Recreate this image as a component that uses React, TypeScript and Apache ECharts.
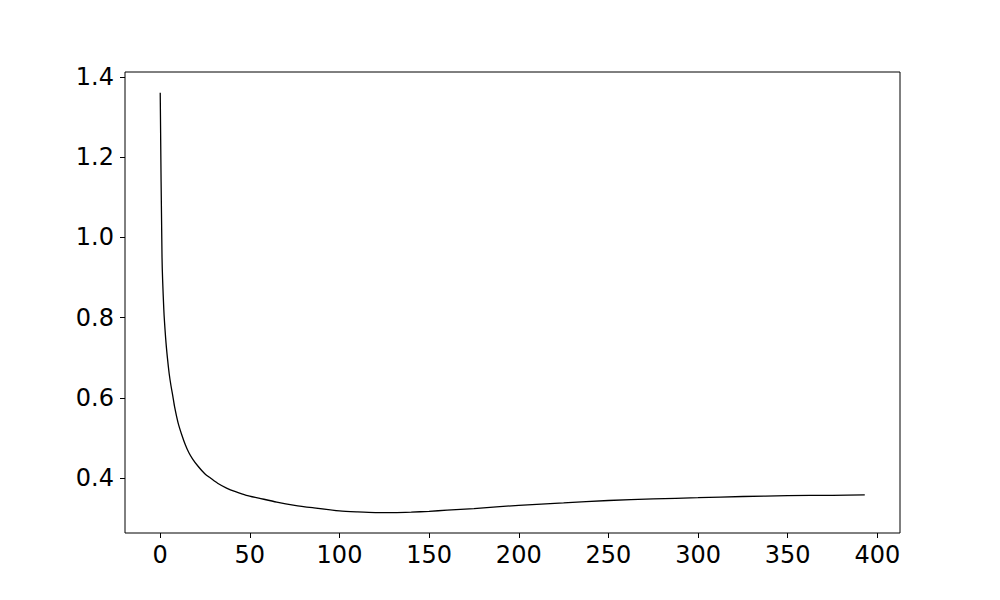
import React, { useEffect, useRef } from "react";
import * as echarts from "echarts";

const xValues = [
  0, 1, 2, 3, 4, 5, 6, 7, 8, 10, 12, 14, 16, 18, 21, 25, 28, 32, 37, 42, 48, 55,
  65, 75, 85, 100, 110, 120, 130, 140, 150, 160, 175, 200, 225, 250, 275, 300,
  325, 350, 375, 393,
];
const yValues = [
  1.36, 0.95, 0.82, 0.75, 0.7, 0.66, 0.63, 0.605, 0.578, 0.537, 0.508, 0.483,
  0.463, 0.448, 0.43, 0.41, 0.4, 0.387, 0.375, 0.366, 0.357, 0.35, 0.34, 0.332,
  0.326, 0.318, 0.3155, 0.314, 0.314, 0.315, 0.317, 0.32, 0.324, 0.332, 0.338,
  0.344, 0.348, 0.351, 0.354, 0.356, 0.357, 0.358,
];
const xTicks = [0, 50, 100, 150, 200, 250, 300, 350, 400];
const yTicks = [0.4, 0.6, 0.8, 1.0, 1.2, 1.4];

export default function App() {
  const ref = useRef<HTMLDivElement>(null);
  useEffect(() => {
    if (!ref.current) return;
    const chart = echarts.init(ref.current, null, { renderer: "svg" });
    const font = "DejaVu Sans";
    chart.setOption({
      animation: false,
      backgroundColor: "#ffffff",
      grid: {
        left: 125,
        right: 100,
        top: 72,
        bottom: 67,
        show: true,
        borderColor: "#000000",
        borderWidth: 1,
        backgroundColor: "transparent",
      },
      xAxis: {
        type: "value",
        min: -19.65,
        max: 412.65,
        splitLine: { show: false },
        axisLine: { show: false, onZero: false },
        axisTick: {
          show: true,
          inside: false,
          length: 5,
          lineStyle: { color: "#000", width: 1 },
          customValues: xTicks,
        },
        axisLabel: {
          color: "#000",
          fontFamily: font,
          fontSize: 24,
          margin: 10,
          customValues: xTicks,
          formatter: (v: number) => String(Math.round(v)),
        },
      },
      yAxis: {
        type: "value",
        min: 0.263,
        max: 1.412,
        splitLine: { show: false },
        axisLine: { show: false, onZero: false },
        axisTick: {
          show: true,
          inside: false,
          length: 5,
          lineStyle: { color: "#000", width: 1 },
          customValues: yTicks,
        },
        axisLabel: {
          color: "#000",
          fontFamily: font,
          fontSize: 24,
          margin: 11,
          customValues: yTicks,
          formatter: (v: number) => v.toFixed(1),
        },
      },
      series: [
        {
          type: "line",
          data: xValues.map((x, i) => [x, yValues[i]]),
          showSymbol: false,
          smooth: 0.25,
          lineStyle: { color: "#000000", width: 1.3 },
        },
      ],
    });
    return () => chart.dispose();
  }, []);
  return (
    <div
      ref={ref}
      style={{ position: "fixed", left: 0, top: 0, width: 1000, height: 600 }}
    />
  );
}
